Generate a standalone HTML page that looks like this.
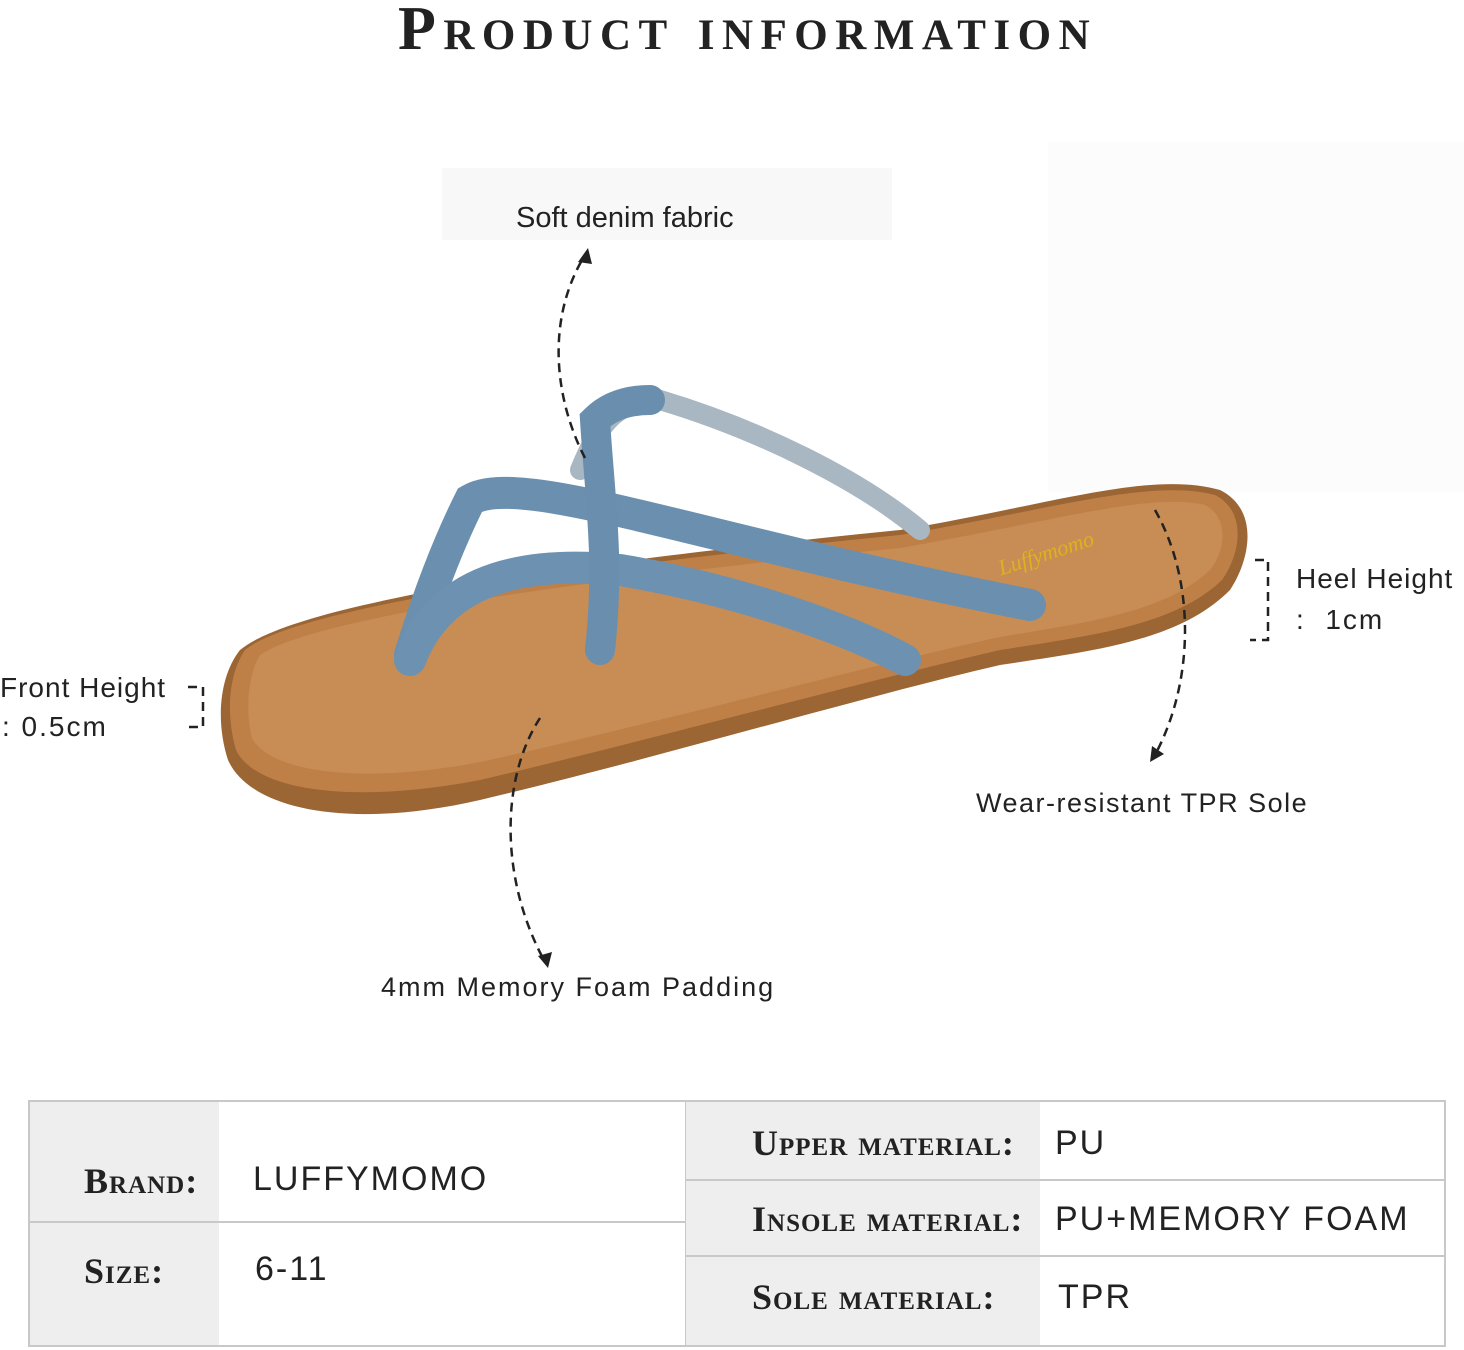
<!DOCTYPE html>
<html><head><meta charset="utf-8"><style>
body{margin:0;width:1464px;height:1350px;background:#fff;position:relative;overflow:hidden;font-family:"Liberation Sans",sans-serif;color:#222}
.t{position:absolute;white-space:nowrap}
.sc{font-family:"Liberation Serif",serif;font-weight:bold;font-variant:small-caps;color:#222}
.cell{position:absolute;box-sizing:border-box}
.lab{font-family:"Liberation Serif",serif;font-weight:bold;font-variant:small-caps;font-size:36px;position:absolute;letter-spacing:1px;white-space:nowrap}
.val{font-size:34px;position:absolute;letter-spacing:2px;white-space:nowrap}
</style></head><body>
<div class="t sc" style="left:398px;top:-6px;font-size:62px;letter-spacing:7.5px">Product information</div>
<div style="position:absolute;left:442px;top:168px;width:450px;height:72px;background:#f8f8f8"></div>
<div style="position:absolute;left:1048px;top:142px;width:416px;height:350px;background:#fcfcfc"></div>
<div class="t" style="left:516px;top:202px;font-size:29px">Soft denim fabric</div>
<div class="t" style="left:1296px;top:563px;font-size:28px;letter-spacing:1px">Heel Height</div>
<div class="t" style="left:1296px;top:604px;font-size:28px;letter-spacing:2px">:&nbsp; 1cm</div>
<div class="t" style="left:0px;top:672px;font-size:28px;letter-spacing:1px">Front Height</div>
<div class="t" style="left:2px;top:711px;font-size:28px;letter-spacing:2px">: 0.5cm</div>
<div class="t" style="left:976px;top:788px;font-size:27px;letter-spacing:1.5px">Wear-resistant TPR Sole</div>
<div class="t" style="left:381px;top:972px;font-size:27px;letter-spacing:2px">4mm Memory Foam Padding</div>
<svg width="1464" height="1100" style="position:absolute;left:0;top:0">
<path d="M240 650 C300 600 600 560 900 530 C1050 505 1150 470 1220 490 C1260 510 1250 560 1230 590 C1180 640 1100 650 1000 665 C850 700 650 760 480 800 C350 830 250 810 228 760 C215 720 220 675 240 650Z" fill="#9c6534"/>
<path d="M245 650 C300 605 600 565 900 535 C1050 510 1150 478 1215 495 C1248 512 1240 555 1222 580 C1175 625 1095 635 1000 650 C850 685 650 740 480 780 C350 805 255 790 236 750 C226 715 228 675 245 650Z" fill="#bf8048"/>
<path d="M260 655 C320 615 600 578 900 548 C1050 522 1150 492 1205 505 C1230 518 1225 552 1210 570 C1165 612 1090 622 1000 637 C850 670 650 725 480 762 C360 785 270 772 252 738 C245 710 248 675 260 655Z" fill="#c78d55"/>
<g fill="none" stroke-linecap="round">
<path d="M580 470 C600 420 620 400 660 400 C760 430 860 480 920 530" stroke="#a9b7c2" stroke-width="20"/>
<path d="M410 655 C430 590 450 540 470 500 C520 470 700 540 1030 605" stroke="#6b8fae" stroke-width="32"/>
<path d="M410 660 C440 580 520 560 620 570 C740 590 850 630 905 660" stroke="#6d91b0" stroke-width="32"/>
<path d="M600 650 C610 560 600 500 595 420 C610 405 630 400 650 400" stroke="#6a8ead" stroke-width="30"/>
</g>
<text x="990" y="555" font-family="Liberation Serif" font-style="italic" font-size="22" fill="#e0b020" transform="rotate(-18 1060 530)">Luffymomo</text>
<g fill="none" stroke="#222" stroke-width="2.5" stroke-dasharray="9 6">
<path d="M585 458 C555 400 545 320 585 255"/>
<path d="M1155 510 C1195 580 1195 680 1155 755"/>
<path d="M540 718 C500 780 500 880 545 962"/>
<path d="M1255 560 H1268 V640 H1250"/>
<path d="M188 687 H203 V727 H188"/>
</g>
<g fill="#222">
<path d="M588 248 L578 262 L592 264Z"/>
<path d="M1150 762 L1152 746 L1164 754Z"/>
<path d="M548 968 L538 956 L552 952Z"/>
</g>
</svg>
<div style="position:absolute;left:28px;top:1100px;width:1418px;height:247px;border:2px solid #c8c8c8;box-sizing:border-box"></div>
<div class="cell" style="left:30px;top:1102px;width:189px;height:243px;background:#eeeeee"></div>
<div class="cell" style="left:685px;top:1102px;width:355px;height:243px;background:#eeeeee;border-left:1px solid #c8c8c8"></div>
<div class="cell" style="left:30px;top:1221px;width:655px;height:2px;background:#c8c8c8"></div>
<div class="cell" style="left:685px;top:1179px;width:760px;height:2px;background:#c8c8c8"></div>
<div class="cell" style="left:685px;top:1255px;width:760px;height:2px;background:#c8c8c8"></div>
<div class="lab" style="left:84px;top:1160px">Brand:</div>
<div class="val" style="left:253px;top:1160px">LUFFYMOMO</div>
<div class="lab" style="left:84px;top:1250px">Size:</div>
<div class="val" style="left:255px;top:1250px">6-11</div>
<div class="lab" style="left:752px;top:1122px">Upper material:</div>
<div class="val" style="left:1055px;top:1124px">PU</div>
<div class="lab" style="left:752px;top:1198px">Insole material:</div>
<div class="val" style="left:1055px;top:1200px">PU+MEMORY FOAM</div>
<div class="lab" style="left:752px;top:1276px">Sole material:</div>
<div class="val" style="left:1058px;top:1278px">TPR</div>
</body></html>
